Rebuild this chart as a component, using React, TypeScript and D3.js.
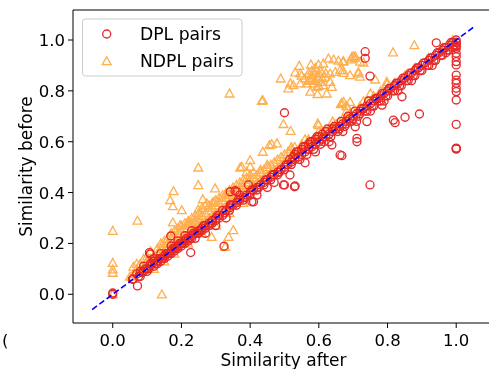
import React from "react";
import * as d3 from "d3";

const xTicks = [0.0, 0.2, 0.4, 0.6, 0.8, 1.0];
const yTicks = [0.0, 0.2, 0.4, 0.6, 0.8, 1.0];
const seriesNames = ["DPL pairs", "NDPL pairs"];
const refLine: [number, number][] = [[-0.06, -0.06], [1.05, 1.05]];

// DPL pairs: [after, before]
const dplBand: [number, number][] = [
  [0.06,0.06],[0.07,0.08],[0.08,0.07],[0.08,0.09],[0.09,0.09],[0.09,0.11],[0.10,0.10],[0.10,0.09],[0.11,0.11],[0.11,0.12],
  [0.12,0.11],[0.12,0.13],[0.12,0.14],[0.13,0.12],[0.13,0.13],[0.14,0.14],[0.14,0.13],[0.14,0.16],[0.15,0.15],[0.15,0.14],
  [0.16,0.16],[0.16,0.15],[0.17,0.17],[0.17,0.16],[0.17,0.19],[0.18,0.18],[0.18,0.17],[0.19,0.19],[0.19,0.18],[0.19,0.21],
  [0.20,0.20],[0.20,0.19],[0.21,0.21],[0.21,0.20],[0.21,0.23],[0.22,0.22],[0.22,0.21],[0.23,0.23],[0.23,0.22],[0.23,0.25],
  [0.24,0.24],[0.24,0.22],[0.25,0.25],[0.25,0.24],[0.26,0.26],[0.26,0.25],[0.27,0.27],[0.27,0.26],[0.27,0.24],[0.28,0.28],
  [0.28,0.27],[0.29,0.29],[0.29,0.28],[0.30,0.30],[0.30,0.29],[0.30,0.27],[0.31,0.31],[0.31,0.30],[0.32,0.33],[0.32,0.31],
  [0.33,0.33],[0.33,0.30],[0.34,0.34],[0.34,0.33],[0.35,0.35],[0.36,0.36],[0.36,0.35],[0.37,0.37],[0.38,0.38],[0.38,0.37],
  [0.39,0.39],[0.40,0.40],[0.40,0.39],[0.41,0.41],[0.42,0.42],[0.42,0.41],[0.43,0.43],[0.44,0.44],[0.44,0.43],[0.45,0.45],
  [0.46,0.46],[0.46,0.45],[0.47,0.47],[0.48,0.48],[0.48,0.47],[0.49,0.49],[0.50,0.50],[0.50,0.49],[0.51,0.51],[0.52,0.52],
  [0.52,0.51],[0.53,0.53],[0.53,0.55],[0.54,0.54],[0.54,0.56],[0.55,0.55],[0.55,0.57],[0.56,0.56],[0.56,0.58],[0.57,0.57],
  [0.57,0.59],[0.58,0.58],[0.58,0.60],[0.59,0.59],[0.59,0.61],[0.60,0.60],[0.60,0.62],[0.61,0.61],[0.61,0.63],[0.62,0.62],
  [0.62,0.64],[0.63,0.63],[0.64,0.64],[0.64,0.65],[0.65,0.65],[0.66,0.66],[0.66,0.65],[0.67,0.67],[0.68,0.68],[0.68,0.67],
  [0.69,0.69],[0.70,0.70],[0.70,0.69],[0.71,0.71],[0.72,0.72],[0.72,0.71],[0.73,0.73],[0.74,0.74],[0.74,0.72],[0.75,0.75],
  [0.76,0.76],[0.76,0.74],[0.77,0.77],[0.78,0.78],[0.78,0.76],[0.79,0.79],[0.80,0.80],[0.80,0.78],[0.81,0.81],[0.82,0.82],
  [0.82,0.80],[0.83,0.83],[0.84,0.84],[0.84,0.82],[0.85,0.85],[0.86,0.86],[0.86,0.84],[0.87,0.87],[0.88,0.88],[0.88,0.86],
  [0.89,0.89],[0.90,0.90],[0.90,0.88],[0.91,0.91],[0.92,0.92],[0.92,0.90],[0.93,0.93],[0.94,0.94],[0.94,0.92],[0.95,0.95],
  [0.96,0.96],[0.96,0.94],[0.97,0.97],[0.98,0.98],[0.98,0.96],[0.99,0.99],[1.00,1.00],[1.00,0.99],[0.99,0.97]
];

const dplBandExtra: [number, number][] = [
  [0.075,0.07],[0.085,0.085],[0.095,0.10],[0.105,0.10],[0.115,0.12],[0.125,0.12],[0.135,0.14],[0.145,0.14],[0.155,0.16],
  [0.165,0.16],[0.175,0.18],[0.185,0.18],[0.195,0.20],[0.205,0.20],[0.215,0.22],[0.225,0.22],[0.235,0.24],[0.245,0.24],
  [0.255,0.25],[0.265,0.27],[0.285,0.28],[0.305,0.31],[0.325,0.32],[0.345,0.35],[0.365,0.37],[0.385,0.38],[0.405,0.41],
  [0.425,0.42],[0.445,0.45],[0.465,0.47],[0.485,0.48],[0.505,0.51],[0.515,0.53],[0.525,0.54],[0.535,0.56],[0.545,0.53],
  [0.555,0.58],[0.565,0.55],[0.575,0.60],[0.585,0.57],[0.595,0.62],[0.605,0.59],[0.615,0.60],[0.625,0.65],[0.635,0.62],
  [0.645,0.66],[0.655,0.64],[0.665,0.68],[0.675,0.66],[0.685,0.70],[0.695,0.68],[0.705,0.72],[0.715,0.70],[0.725,0.73],
  [0.735,0.72],[0.745,0.76],[0.755,0.74],[0.765,0.77],[0.775,0.76],[0.785,0.79],[0.795,0.78],[0.805,0.81],[0.815,0.80],
  [0.825,0.83],[0.835,0.82],[0.845,0.85],[0.855,0.84],[0.865,0.87],[0.875,0.86],[0.885,0.89],[0.895,0.88],[0.905,0.91],
  [0.915,0.90],[0.925,0.93],[0.935,0.92],[0.945,0.95],[0.955,0.94],[0.965,0.97],[0.975,0.96],[0.985,0.99],[0.995,0.98],
  [0.97,0.95],[0.93,0.90],[0.87,0.84],[0.83,0.80],[0.79,0.76],[0.75,0.72],[0.71,0.68],[0.67,0.64],[0.63,0.60],[0.59,0.56],
  [0.42,0.39],[0.45,0.42],[0.47,0.44],[0.37,0.39]
];

const dplOutliers: [number, number][] = [
  [0.0,0.0],[0.0,0.005],[0.072,0.033],[0.057,0.059],[0.107,0.164],[0.169,0.229],[0.227,0.164],[0.324,0.189],
  [0.109,0.158],[0.356,0.407],[0.361,0.403],[0.342,0.403],[0.395,0.43],[0.405,0.364],[0.342,0.351],[0.41,0.364],
  [0.50,0.714],[0.50,0.43],[0.531,0.426],[0.516,0.469],[0.56,0.517],[0.497,0.43],[0.529,0.423],
  [0.638,0.587],[0.662,0.548],[0.667,0.545],[0.711,0.60],[0.749,0.43],
  [0.735,0.954],[0.735,0.928],[0.749,0.858],[0.942,0.989],
  [0.851,0.696],[0.817,0.685],[0.822,0.675],[0.893,0.709],[0.842,0.777],[0.784,0.744],[0.706,0.659],[0.74,0.679],[0.711,0.613],
  [1.0,0.99],[1.0,0.98],[1.0,0.974],[1.0,0.967],[1.0,0.948],[1.0,0.934],[1.0,0.915],[1.0,0.902],[1.0,0.862],
  [1.0,0.842],[1.0,0.830],[1.0,0.810],[1.0,0.797],[1.0,0.764],[1.0,0.668],[1.0,0.571],[1.0,0.573],[1.0,0.575]
];

// NDPL pairs: [after, before]
const ndplBand: [number, number][] = [
  [0.05,0.07],[0.06,0.08],[0.07,0.10],[0.08,0.09],[0.08,0.12],[0.09,0.11],[0.10,0.13],[0.10,0.10],[0.11,0.14],[0.11,0.12],
  [0.12,0.15],[0.12,0.12],[0.12,0.10],[0.13,0.16],[0.13,0.14],[0.14,0.18],[0.14,0.15],[0.15,0.17],[0.15,0.19],[0.15,0.13],
  [0.16,0.18],[0.16,0.20],[0.17,0.19],[0.17,0.22],[0.18,0.20],[0.18,0.23],[0.18,0.16],[0.19,0.21],[0.19,0.24],[0.20,0.22],
  [0.20,0.25],[0.21,0.23],[0.21,0.26],[0.22,0.24],[0.22,0.27],[0.22,0.20],[0.23,0.25],[0.23,0.28],[0.24,0.26],[0.24,0.29],
  [0.25,0.27],[0.25,0.30],[0.26,0.28],[0.26,0.31],[0.26,0.24],[0.27,0.29],[0.27,0.32],[0.28,0.30],[0.28,0.33],[0.29,0.31],
  [0.29,0.34],[0.30,0.32],[0.30,0.35],[0.30,0.27],[0.31,0.33],[0.31,0.36],[0.32,0.34],[0.32,0.37],[0.33,0.35],[0.33,0.38],
  [0.34,0.36],[0.34,0.39],[0.34,0.32],[0.35,0.37],[0.35,0.40],[0.36,0.38],[0.36,0.41],[0.37,0.39],[0.37,0.42],[0.38,0.40],
  [0.38,0.43],[0.38,0.36],[0.39,0.41],[0.39,0.44],[0.40,0.42],[0.40,0.45],[0.41,0.43],[0.41,0.46],[0.42,0.44],[0.42,0.47],
  [0.43,0.45],[0.43,0.48],[0.44,0.46],[0.44,0.49],[0.45,0.47],[0.45,0.50],[0.46,0.48],[0.46,0.51],[0.47,0.49],[0.47,0.52],
  [0.48,0.50],[0.48,0.53],[0.49,0.51],[0.49,0.54],[0.50,0.52],[0.50,0.55],[0.51,0.53],[0.51,0.56],[0.52,0.54],[0.52,0.57],
  [0.53,0.55],[0.53,0.58],[0.54,0.56],[0.55,0.57],[0.55,0.59],[0.56,0.58],[0.57,0.59],[0.57,0.61],[0.58,0.60],[0.59,0.61],
  [0.60,0.62],[0.61,0.63],[0.62,0.64],[0.63,0.65],[0.64,0.66],[0.65,0.67],[0.66,0.68],[0.67,0.69],[0.68,0.70],[0.69,0.71],
  [0.70,0.72],[0.72,0.74],[0.74,0.76],[0.76,0.78],[0.78,0.80],[0.80,0.81],[0.82,0.83],[0.85,0.86],[0.88,0.89],[0.92,0.93],
  [0.96,0.97],[0.99,1.00]
];

const ndplBandUpper: [number, number][] = [
  [0.07,0.12],[0.09,0.14],[0.10,0.15],[0.11,0.17],[0.13,0.18],[0.14,0.20],[0.15,0.21],[0.16,0.22],[0.17,0.24],[0.18,0.25],
  [0.19,0.26],[0.20,0.27],[0.21,0.28],[0.22,0.29],[0.23,0.30],[0.24,0.31],[0.25,0.32],[0.26,0.34],[0.27,0.35],[0.28,0.35],
  [0.29,0.36],[0.30,0.37],[0.31,0.38],[0.32,0.39],[0.33,0.40],[0.34,0.41],[0.35,0.42],[0.36,0.43],[0.37,0.44],[0.38,0.45],
  [0.39,0.46],[0.40,0.47],[0.41,0.48],[0.43,0.49],[0.45,0.51],
  [0.52,0.58],[0.56,0.61],[0.60,0.64],[0.64,0.68],[0.68,0.72],[0.73,0.76],[0.75,0.79],
  [0.145,0.16],[0.165,0.17],[0.185,0.19],[0.205,0.21],[0.245,0.25],[0.285,0.29],[0.325,0.33],[0.365,0.37],[0.405,0.41],
  [0.445,0.45],[0.485,0.49],[0.525,0.53],[0.565,0.57],[0.605,0.61],[0.645,0.65],[0.685,0.69],[0.725,0.73],[0.765,0.77]
];

const ndplScatter: [number, number][] = [
  [0.0,0.0],[0.0,0.25],[0.0,0.124],[0.0,0.098],[0.0,0.085],[0.06,0.109],[0.072,0.29],[0.143,0.0],
  [0.249,0.499],[0.249,0.43],[0.177,0.406],[0.167,0.371],[0.175,0.347],[0.201,0.331],[0.262,0.374],[0.298,0.417],
  [0.249,0.334],[0.25,0.285],[0.175,0.283],[0.196,0.272],[0.274,0.358],[0.337,0.226],[0.351,0.253],[0.376,0.502],
  [0.39,0.482],[0.295,0.364],[0.33,0.397],[0.225,0.279],[0.327,0.187],[0.22,0.282],[0.24,0.292],[0.288,0.226],
  [0.40,0.528],[0.40,0.502],[0.437,0.561],[0.456,0.587],[0.478,0.594],[0.463,0.591],[0.371,0.499],
  [0.34,0.79],[0.434,0.761],[0.497,0.67],[0.518,0.643],[0.597,0.672],[0.599,0.666],[0.664,0.748],[0.68,0.74],
  [0.672,0.757],[0.691,0.757],[0.878,0.98],[0.816,0.952],[0.764,0.845],[0.798,0.836],[0.70,0.937],[0.695,0.924],
  [0.705,0.93],[0.67,0.915],[0.67,0.882],[0.715,0.869],
  [0.489,0.849],[0.543,0.899],[0.531,0.873],[0.546,0.869],[0.577,0.904],[0.599,0.904],[0.613,0.908],[0.628,0.928],
  [0.643,0.924],[0.657,0.919],[0.672,0.917],[0.696,0.934],[0.706,0.937],[0.720,0.915],[0.730,0.912],[0.580,0.862],
  [0.589,0.869],[0.599,0.856],[0.609,0.869],[0.618,0.856],[0.633,0.869],[0.648,0.875],[0.662,0.882],[0.672,0.871],
  [0.691,0.862],[0.715,0.875],[0.720,0.856],[0.517,0.830],[0.526,0.823],[0.546,0.830],[0.565,0.830],[0.575,0.843],
  [0.584,0.830],[0.594,0.816],[0.604,0.836],[0.613,0.823],[0.633,0.836],[0.638,0.816],[0.511,0.810],[0.575,0.797],
  [0.596,0.788],[0.623,0.790],[0.437,0.764],[0.667,0.753],[0.682,0.740],[0.798,0.827],
  [0.56,0.85],[0.57,0.87],[0.58,0.85],[0.59,0.84],[0.60,0.87],[0.61,0.85],[0.57,0.84],[0.62,0.87],[0.60,0.82],
  [0.58,0.88],[0.55,0.86],[0.59,0.89]
];

const W = 489, H = 369;
const FONT = "DejaVu Sans, sans-serif";

export default function App() {
  const x = d3.scaleLinear().domain([-0.1157, 1.11]).range([73, 494]);
  const y = d3.scaleLinear().domain([-0.113, 1.118]).range([323, 10]);
  const left = 73, top = 10, bottom = 323, right = 494;
  const red = "#e31a1c";
  const orange = "#ffa12e";
  const tri = "M0,-4.3L4.4,3.6L-4.4,3.6Z";
  const ndpl = [...ndplBand, ...ndplBandUpper, ...ndplScatter];
  const dpl = [...dplBand, ...dplBandExtra, ...dplOutliers];
  const line = d3.line<[number, number]>().x(d => x(d[0])).y(d => y(d[1]));

  return (
    <svg width={W} height={H} style={{ position: "absolute", left: 0, top: 0, background: "#fff" }}
      fontFamily={FONT}>
      <defs>
        <clipPath id="plotclip">
          <rect x={left} y={top} width={right - left} height={bottom - top} />
        </clipPath>
      </defs>
      <g clipPath="url(#plotclip)">
        <g opacity={0.85}>
          {ndpl.map((d, i) => (
            <path key={"n" + i} d={tri} transform={`translate(${x(d[0])},${y(d[1])})`}
              fill="none" stroke={orange} strokeWidth={1.3} />
          ))}
        </g>
        <g opacity={0.92}>
          {dpl.map((d, i) => (
            <circle key={"d" + i} cx={x(d[0])} cy={y(d[1])} r={4}
              fill="none" stroke={red} strokeWidth={1.35} />
          ))}
        </g>
        <path d={line(refLine) || ""} fill="none" stroke="#0000ff" strokeWidth={1.6} strokeDasharray="6,3" />
      </g>
      <line x1={left} y1={top} x2={right} y2={top} stroke="#000" strokeWidth={1} />
      <line x1={left} y1={bottom} x2={right} y2={bottom} stroke="#000" strokeWidth={1} />
      <line x1={left} y1={top} x2={left} y2={bottom} stroke="#000" strokeWidth={1} />
      {xTicks.map(t => (
        <g key={"xt" + t}>
          <line x1={x(t)} x2={x(t)} y1={bottom} y2={bottom + 5} stroke="#000" strokeWidth={1} />
          <text x={x(t)} y={bottom + 23} textAnchor="middle" fontSize={16.5} fill="#000">{t.toFixed(1)}</text>
        </g>
      ))}
      {yTicks.map(t => (
        <g key={"yt" + t}>
          <line x1={left - 5} x2={left} y1={y(t)} y2={y(t)} stroke="#000" strokeWidth={1} />
          <text x={left - 8} y={y(t)} dy="0.36em" textAnchor="end" fontSize={16.5} fill="#000">{t.toFixed(1)}</text>
        </g>
      ))}
      <text x={2} y={346} fontSize={16.5} fill="#000">(</text>
      <text x={(left + right) / 2} y={366} textAnchor="middle" fontSize={17} fill="#000">Similarity after</text>
      <text transform={`translate(32,${(top + bottom) / 2}) rotate(-90)`} textAnchor="middle" fontSize={17} fill="#000">Similarity before</text>
      <rect x={82.5} y={19} width={159.5} height={57} rx={3} fill="#fff" fillOpacity={0.8} stroke="#cccccc" strokeWidth={1} />
      <circle cx={106.7} cy={34} r={4} fill="none" stroke={red} strokeWidth={1.35} opacity={0.92} />
      <path d={tri} transform="translate(106.7,61)" fill="none" stroke={orange} strokeWidth={1.3} opacity={0.85} />
      <text x={140} y={40} fontSize={17.2} fill="#000">{seriesNames[0]}</text>
      <text x={140} y={67} fontSize={17.2} fill="#000">{seriesNames[1]}</text>
    </svg>
  );
}
